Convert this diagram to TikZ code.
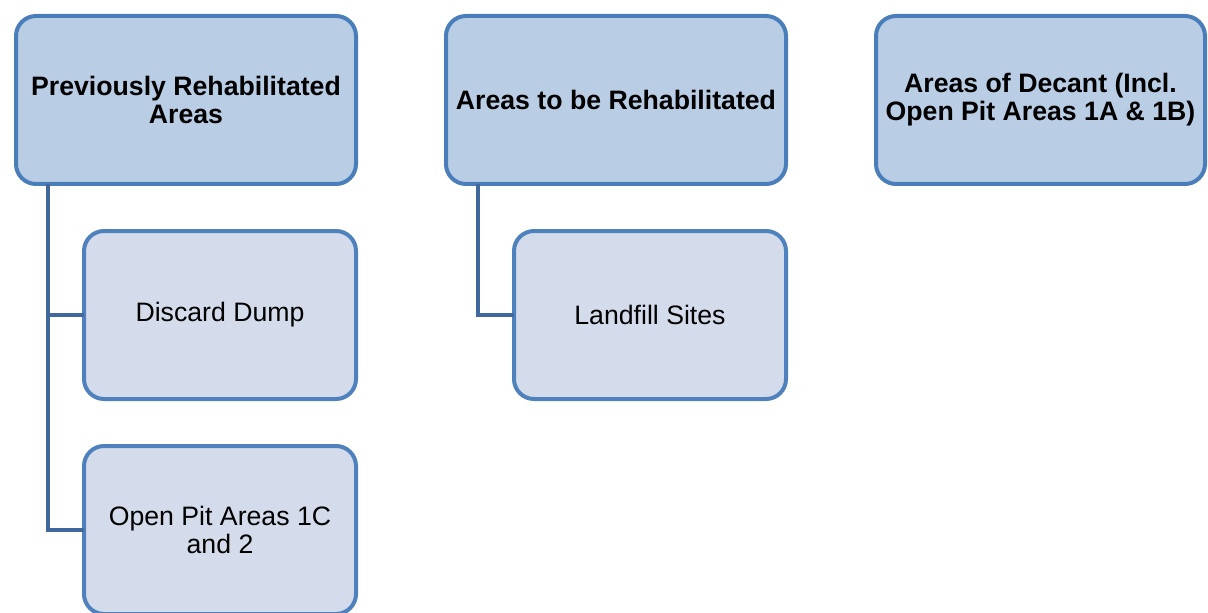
\documentclass[tikz,border=0pt]{standalone}
\usepackage{fontspec}
\setmainfont{Liberation Sans}
\usepackage{xcolor}
\usepackage{tikz}
\usetikzlibrary{positioning}
\definecolor{headfill}{HTML}{B9CDE5}
\definecolor{headline}{HTML}{4A7EBB}
\definecolor{itemfill}{HTML}{D4DCEC}
\definecolor{itemline}{HTML}{4F81BD}
\definecolor{linkcol}{HTML}{41689C}
\tikzset{
  head/.style={draw=headline, fill=headfill, line width=3pt, rounded corners=15pt,
    minimum width=255pt, minimum height=126pt, align=center, outer sep=0pt,
    font=\fontsize{20}{21}\selectfont\bfseries, inner sep=0pt},
  item/.style={draw=itemline, fill=itemfill, line width=3pt, rounded corners=15pt,
    minimum width=204pt, minimum height=126pt, align=center, outer sep=0pt,
    font=\fontsize{20}{21.5}\selectfont, inner sep=0pt},
  link/.style={draw=linkcol, line width=3pt}
}
\begin{document}
\begin{tikzpicture}
 \useasboundingbox (0,0) rectangle (906pt,459pt);
% nodes
 \node[head] (prev) at (139.5pt,384pt) {Previously Rehabilitated\\Areas};
 \node[head, right=67.5pt of prev] (tobe) {Areas to be Rehabilitated};
 \node[head, minimum width=246.75pt, right=67.5pt of tobe] (decant) {Areas of Decant (Incl.\\Open Pit Areas 1A \& 1B)};

 \node[item, below left=35.25pt and 0pt of prev.south east] (dump) {Discard Dump};
 \node[item, below=35.25pt of dump] (pit) {Open Pit Areas 1C\\and 2};
 \node[item, below left=35.25pt and 0pt of tobe.south east] (landfill) {Landfill Sites};

% edges
 \draw[link] ([xshift=24pt]prev.south west) |- (dump.west);
 \draw[link] ([xshift=24pt]prev.south west) |- (pit.west);
 \draw[link] ([xshift=24pt]tobe.south west) |- (landfill.west);
\end{tikzpicture}
\end{document}
